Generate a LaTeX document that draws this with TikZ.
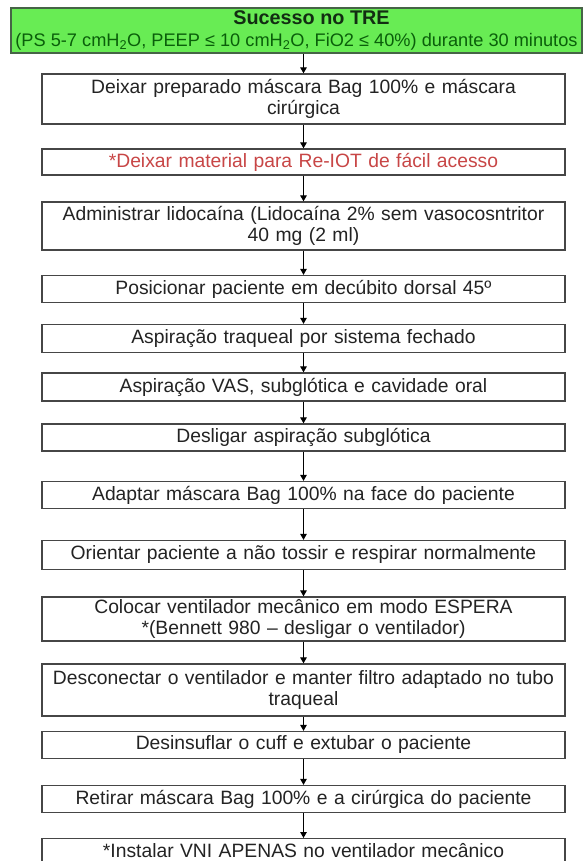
\documentclass[tikz,border=0pt]{standalone}
\usepackage{fontspec}
\setmainfont{Liberation Sans}
\usetikzlibrary{arrows.meta}
\definecolor{okgreen}{RGB}{104,236,84}
\definecolor{okedge}{RGB}{70,100,70}
\definecolor{oktitle}{RGB}{18,45,18}
\definecolor{oksub}{RGB}{10,95,10}
\definecolor{boxline}{RGB}{70,70,70}
\definecolor{bodytext}{RGB}{35,35,35}
\definecolor{warnred}{RGB}{200,70,70}
\tikzset{
  stepbox/.style={draw=boxline, line width=1.3pt, fill=white, minimum width=523pt,
    text width=521pt, align=center, inner sep=0pt, text=bodytext,
    font=\fontsize{19.3}{20.5}\selectfont},
  flow/.style={draw=black, line width=1.2pt, -{Triangle[length=6pt,width=6.5pt]}},
}
\begin{document}
\begin{tikzpicture}[x=1pt,y=-1pt]
\useasboundingbox (0,0) rectangle (584,861);
\clip (0,0) rectangle (584,861);

% header: weaning trial success
\node[draw=okedge, line width=1.3pt, fill=okgreen, minimum width=571pt, minimum height=45pt,
      inner sep=0pt, align=center,
      font=\fontsize{18.2}{21.5}\selectfont] (g) at (296.5,30.5)
  {{\fontsize{19.8}{21}\selectfont\bfseries\color{oktitle}\hspace*{30pt}Sucesso no TRE}\\
   {\color{oksub}(PS 5-7 cmH\textsubscript{2}O, PEEP ≤ 10 cmH\textsubscript{2}O, FiO2 ≤ 40\%) durante 30 minutos}};

% extubation steps
\node[stepbox, minimum height=50pt] (b1) at (303.5,99)
  {Deixar preparado máscara Bag 100\% e máscara\\cirúrgica};
\node[stepbox, minimum height=26pt, text=warnred] (b2) at (303.5,162)
  {*Deixar material para Re-IOT de fácil acesso};
\node[stepbox, minimum height=48pt] (b3) at (303.5,226)
  {Administrar lidocaína (Lidocaína 2\% sem vasocosntritor\\40 mg (2 ml)};
\node[stepbox, minimum height=27pt] (b4) at (303.5,289)
  {Posicionar paciente em decúbito dorsal 45º};
\node[stepbox, minimum height=28pt] (b5) at (303.5,338.5)
  {Aspiração traqueal por sistema fechado};
\node[stepbox, minimum height=28pt] (b6) at (303.5,387)
  {Aspiração VAS, subglótica e cavidade oral};
\node[stepbox, minimum height=27pt] (b7) at (303.5,437.5)
  {Desligar aspiração subglótica};
\node[stepbox, minimum height=27pt] (b8) at (303.5,495)
  {Adaptar máscara Bag 100\% na face do paciente};
\node[stepbox, minimum height=29pt] (b9) at (303.5,555)
  {Orientar paciente a não tossir e respirar normalmente};
\node[stepbox, minimum height=44pt] (b10) at (303.5,619)
  {Colocar ventilador mecânico em modo ESPERA\\{}*(Bennett 980 – desligar o ventilador)};
\node[stepbox, minimum height=52pt] (b11) at (303.5,690)
  {Desconectar o ventilador e manter filtro adaptado no tubo\\traqueal};
\node[stepbox, minimum height=27pt] (b12) at (303.5,745)
  {Desinsuflar o cuff e extubar o paciente};
\node[stepbox, minimum height=27pt] (b13) at (303.5,799)
  {Retirar máscara Bag 100\% e a cirúrgica do paciente};
\node[stepbox, minimum height=30pt, anchor=north] (b14) at (303.5,838)
  {\raisebox{6pt}{*Instalar VNI APENAS no ventilador mecânico}};

% connectors
\draw[flow] (b1.north |- g.south) -- (b1.north);
\draw[flow] (b1) -- (b2);
\draw[flow] (b2) -- (b3);
\draw[flow] (b3) -- (b4);
\draw[flow] (b4) -- (b5);
\draw[flow] (b5) -- (b6);
\draw[flow] (b6) -- (b7);
\draw[flow] (b7) -- (b8);
\draw[flow] (b8) -- (b9);
\draw[flow] (b9) -- (b10);
\draw[flow] (b10) -- (b11);
\draw[flow] (b11) -- (b12);
\draw[flow] (b12) -- (b13);
\draw[flow] (b13) -- (b14);
\end{tikzpicture}
\end{document}
